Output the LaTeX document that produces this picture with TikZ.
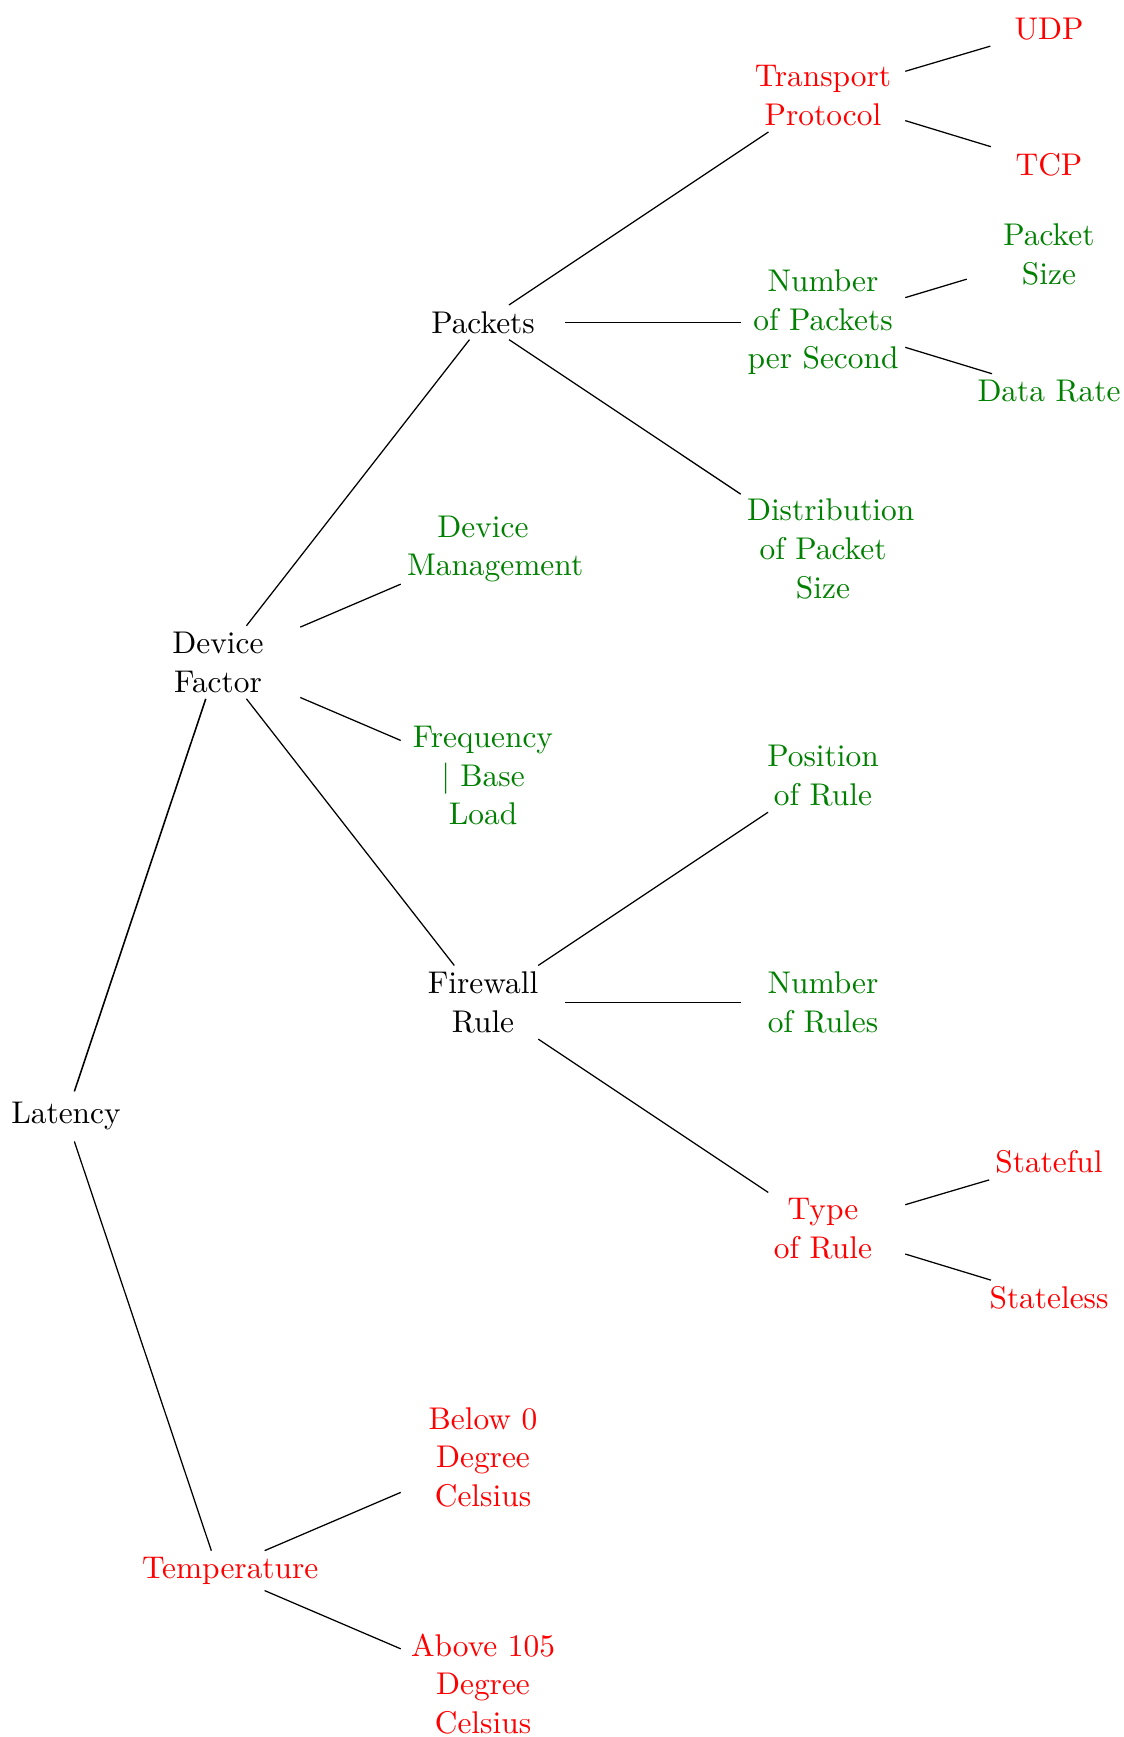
\documentclass[tikz,border=0pt]{standalone}
\usepackage{xcolor}
\definecolor{leafgreen}{rgb}{0,0.5,0}
\begin{document}
\begin{tikzpicture}[x=0.3185pt,y=-0.3185pt,
  box/.style={inner sep=1.8pt, text width=48.4pt, align=center,
    execute at begin node={\setlength{\baselineskip}{12.3pt}}},
  blacktxt/.style={box, text=black},
  redtxt/.style={box, text=red},
  greentxt/.style={box, text=leafgreen},
  link/.style={draw=black, line width=0.4pt}]
\useasboundingbox (0,0) rectangle (1123,1737);

% root
\node (lat) at (66,1116.4) {Latency};

% first level
\node[blacktxt] (df)   at (218,662.3)  {Device\\Factor};
\node[redtxt]   (temp) at (218,1570.6) {Temperature};

% second level
\node[blacktxt] (pk)   at (483,322.3)  {Packets};
\node[greentxt] (dm)   at (483,549)    {Device\\Management};
\node[greentxt] (freq) at (483,775.6)  {Frequency\\| Base\\Load};
\node[blacktxt] (fw)   at (483,1002.3) {Firewall\\Rule};
\node[redtxt]   (b0)   at (483,1457.2) {Below 0\\Degree\\Celsius};
\node[redtxt]   (a105) at (483,1684)   {Above 105\\Degree\\Celsius};

% third level
\node[redtxt]   (tp)   at (823,95.6)   {Transport\\Protocol};
\node[greentxt] (nps)  at (823,322.3)  {Number\\of Packets\\per Second};
\node[greentxt] (dist) at (823,549)    {Distribution\\of Packet\\Size};
\node[greentxt] (pos)  at (823,775.6)  {Position\\of Rule};
\node[greentxt] (nr)   at (823,1002.3) {Number\\of Rules};
\node[redtxt]   (tr)   at (823,1229)   {Type\\of Rule};

% fourth level
\node[redtxt]   (udp)  at (1049,28.8)   {UDP};
\node[redtxt]   (tcp)  at (1049,164.4)  {TCP};
\node[greentxt] (ps)   at (1049,254.5)  {Packet\\Size};
\node[greentxt] (dr)   at (1049,391.1)  {Data Rate};
\node[redtxt]   (sf)   at (1049,1162.2) {Stateful};
\node[redtxt]   (sl)   at (1049,1297.8) {Stateless};

% connectors
\draw[link, line width=0.5pt] (lat) -- (df);
\draw[link] (lat) -- (temp);
\draw[link] (df) -- (pk);
\draw[link] (df) -- (dm);
\draw[link] (df) -- (freq);
\draw[link] (df) -- (fw);
\draw[link] (temp) -- (b0);
\draw[link] (temp) -- (a105);
\draw[link] (pk) -- (tp);
\draw[link] (pk) -- (nps);
\draw[link] (pk) -- (dist);
\draw[link] (fw) -- (pos);
\draw[link] (fw) -- (nr);
\draw[link] (fw) -- (tr);
\draw[link] (tp) -- (udp);
\draw[link] (tp) -- (tcp);
\draw[link] (nps) -- (ps);
\draw[link] (nps) -- (dr);
\draw[link] (tr) -- (sf);
\draw[link] (tr) -- (sl);
\end{tikzpicture}
\end{document}
